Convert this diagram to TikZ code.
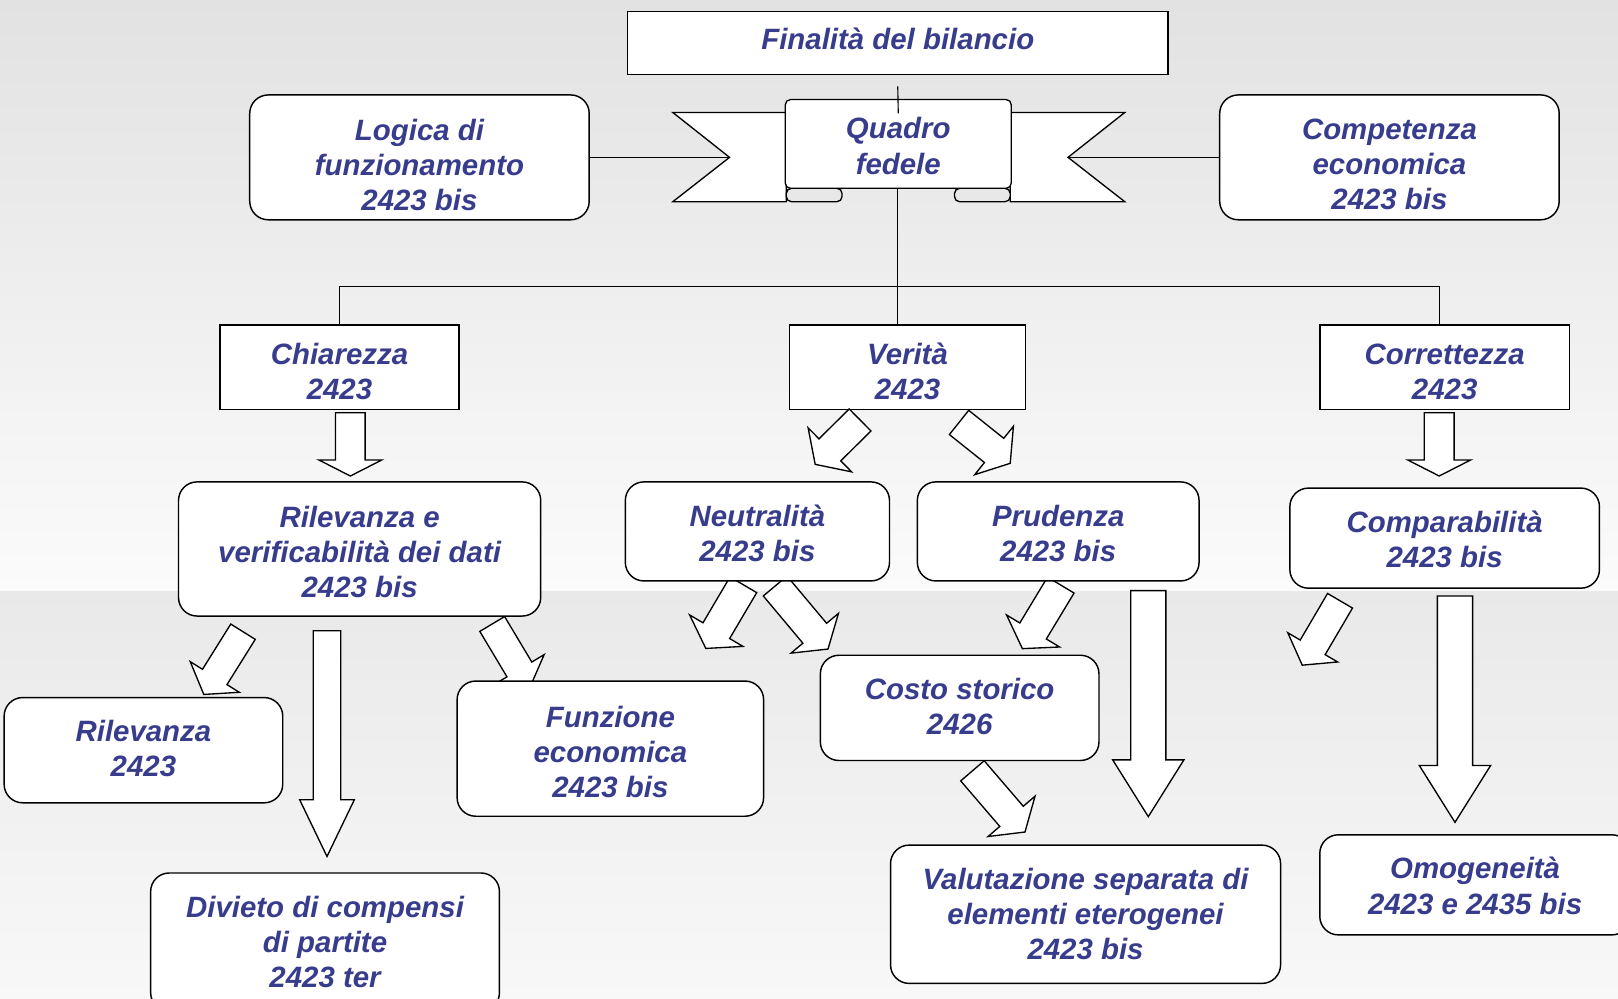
\documentclass[tikz,border=0pt]{standalone}
\usepackage{fontspec}
\setmainfont{Liberation Sans}
\usetikzlibrary{calc}

\definecolor{txt}{RGB}{56,60,140}
\definecolor{bgA}{RGB}{226,226,226}
\definecolor{bgB}{RGB}{251,251,251}
\definecolor{bgC}{RGB}{233,233,233}
\definecolor{bgD}{RGB}{248,248,248}

\newcommand\boxfont{\fontsize{28.5}{34}\selectfont\bfseries\itshape}

% block arrow: name, tail, tip, shaft half width, head half width, head length
\newcommand\fatarrow[6]{%
  \coordinate (#1-t) at (#2);
  \coordinate (#1-h) at (#3);
  \coordinate (#1-b) at ($(#1-h)!#6pt!(#1-t)$);
  \draw[fat]
    ($(#1-t)!#4pt!90:(#1-h)$) --
    ($(#1-b)!#4pt!-90:(#1-t)$) --
    ($(#1-b)!#5pt!-90:(#1-t)$) --
    (#1-h) --
    ($(#1-b)!#5pt!90:(#1-t)$) --
    ($(#1-b)!#4pt!90:(#1-t)$) --
    ($(#1-t)!#4pt!-90:(#1-h)$) -- cycle;
}

\tikzset{
  tx/.style={text=txt, font=\boxfont, align=center, inner sep=0pt},
  base/.style={draw=black, line width=1.4pt, fill=white, tx, inner sep=2pt},
  sbox/.style={base},
  rbox/.style={base, rounded corners=18pt},
  conn/.style={draw=black, line width=1.1pt},
  fat/.style={draw=black, line width=1.3pt, fill=white, line join=miter},
  ribbon/.style={draw=black, line width=1.3pt, fill=white},
}

\begin{document}
\begin{tikzpicture}[x=1pt,y=-1pt]
\useasboundingbox (0,0) rectangle (1568,968);
\clip (0,0) rectangle (1568,968);

% background
\shade[top color=bgA, bottom color=bgB] (0,0) rectangle (1568,573);
\shade[top color=bgC, bottom color=bgD] (0,573) rectangle (1568,968);

% boxes
\node[sbox, minimum width=524, minimum height=61,
  label={[tx, yshift=3.5pt]center:{Finalità del bilancio}}] (fin) at (870,41.5) {};
\node[rbox, minimum width=329, minimum height=121,
  label={[tx, yshift=-7pt]center:{Logica di\\funzionamento\\2423 bis}}] (logica) at (406.5,152.5) {};
\node[rbox, minimum width=329, minimum height=121,
  label={[tx, yshift=-7pt]center:{Competenza\\economica\\2423 bis}}] (compet) at (1346.5,152.5) {};

\node[sbox, minimum width=232, minimum height=82,
  label={[tx, yshift=-4pt]center:{Chiarezza\\2423}}] (chiar) at (329,356) {};
\node[sbox, minimum width=229, minimum height=82,
  label={[tx, yshift=-4pt]center:{Verità\\2423}}] (verita) at (879.5,356) {};
\node[sbox, minimum width=242, minimum height=82,
  label={[tx, yshift=-4pt]center:{Correttezza\\2423}}] (corret) at (1400,356) {};

% connectors of the upper part
\coordinate (notchL) at (707,152.5);
\coordinate (notchR) at (1035,152.5);
\coordinate (busL) at (329,278);
\coordinate (busR) at (1395,278);
\draw[conn] (logica.east) -- (notchL);
\draw[conn] (compet.west) -- (notchR);
\draw[conn] (870,183) -- (870,315);
\draw[conn] (chiar.north) -- (busL) -- (busR) -- (busR |- corret.north);

% block arrows
\fatarrow{a1}{339.5,400}{339.5,461.3}{14.3}{30.4}{15.5}
\fatarrow{a2}{1394.7,400}{1394.7,461.3}{14.5}{30.4}{15.5}
\fatarrow{a3}{833.5,407}{790,450}{15}{30}{20}
\fatarrow{a4}{929.4,409.4}{979,449}{15}{30}{20}
\fatarrow{a5}{720.4,566.7}{684,628.4}{15}{30}{20}
\fatarrow{a6}{751.2,567.9}{802.4,629}{15}{30}{20}
\fatarrow{a7}{235.5,612.2}{197.5,673}{14}{28}{20}
\fatarrow{a8}{316.9,611.2}{316.9,830}{13.3}{26.5}{55}
\fatarrow{a9}{477,604.7}{513.6,665.9}{14}{28}{20}
\fatarrow{a10}{1028,567}{990.8,628.6}{15}{30}{20}
\fatarrow{a11}{1112.8,572.4}{1112.8,791.4}{17}{34.5}{55}
\fatarrow{a12}{942.4,747}{993.3,806.3}{15}{30}{20}
\fatarrow{a13}{1298.6,582.2}{1262,644.6}{14}{28}{20}
\fatarrow{a14}{1410,577.6}{1410,796.9}{17.1}{34.5}{55}

% lower boxes
\node[rbox, minimum width=351, minimum height=130,
  label={[tx, yshift=-3pt]center:{Rilevanza e\\verificabilità dei dati\\2423 bis}}] (rilver) at (348.5,532) {};
\node[rbox, minimum width=256, minimum height=96,
  label={[tx, yshift=-2pt]center:{Neutralità\\2423 bis}}] (neutr) at (734,515) {};
\node[rbox, minimum width=273, minimum height=96,
  label={[tx, yshift=-2pt]center:{Prudenza\\2423 bis}}] (prud) at (1025.5,515) {};
\node[rbox, minimum width=300, minimum height=97,
  label={[tx, yshift=-1pt]center:{Comparabilità\\2423 bis}}] (compar) at (1400,521.5) {};

\node[rbox, minimum width=270, minimum height=102,
  label={[tx, yshift=1.5pt]center:{Rilevanza\\2423}}] (ril) at (139,727) {};
\node[rbox, minimum width=297, minimum height=131,
  label={[tx, yshift=-3pt]center:{Funzione\\economica\\2423 bis}}] (funz) at (591.5,725.5) {};
\node[rbox, minimum width=270, minimum height=102,
  label={[tx, yshift=1pt]center:{Costo storico\\2426}}] (costo) at (930,686) {};

\node[rbox, minimum width=338, minimum height=134] (divieto) at (315,913) {Divieto di compensi\\di partite\\2423 ter};
\node[rbox, minimum width=378, minimum height=134] (valut) at (1052,886) {Valutazione separata di\\elementi eterogenei\\2423 bis};
\node[rbox, minimum width=301, minimum height=97,
  label={[tx, yshift=-1pt]center:{Omogeneità\\2423 e 2435 bis}}] (omog) at (1429.5,857.5) {};

% ribbon banner
\draw[ribbon, line join=miter] (762,109) -- (652,109) -- (notchL) -- (652,195.5) -- (762,195.5) -- cycle;
\draw[ribbon, line join=miter] (979,109) -- (1090,109) -- (notchR) -- (1090,195.5) -- (979,195.5) -- cycle;
\draw[ribbon, fill=gray!18, rounded corners=5pt] (762,182.5) rectangle (816,195.5);
\draw[ribbon, fill=gray!18, rounded corners=5pt] (925,182.5) rectangle (979,195.5);
\node[base, rounded corners=5pt, line width=1.3pt, minimum width=219, minimum height=86,
  label={[tx, yshift=-2pt]center:{Quadro\\fedele}}] (quadro) at (870.5,139.5) {};
\draw[conn] ($(fin.south)+(0,11)$) -- ($(quadro.north)+(0,14)$);
\end{tikzpicture}
\end{document}
